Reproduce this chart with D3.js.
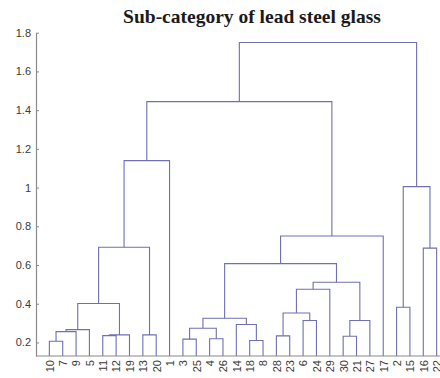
<!DOCTYPE html>
<html>
<head>
<meta charset="utf-8">
<script src="https://cdn.jsdelivr.net/npm/d3@7"></script>
<style>
  body { margin: 0; background: #fff; }
  svg { display: block; }
</style>
</head>
<body>
<svg id="chart" width="440" height="378"></svg>
<script>
// Leaf order along the x axis (observation numbers)
const leafOrder = [10, 7, 9, 5, 11, 12, 19, 13, 20, 1, 3, 25, 4, 26, 14, 18, 8,
                   28, 23, 6, 24, 29, 30, 21, 27, 17, 2, 15, 16, 22];

// Linkage table: row k joins mergeLeft[k] and mergeRight[k] at mergeHeight[k];
// ids 1..30 are observations, id 30+k is the cluster formed in row k.
const mergeLeft   = [10, 18, 3, 4, 30, 28, 11, 37, 13, 31, 40, 33, 14, 6, 35,
                     42, 36, 2, 41, 47, 50, 46, 16, 49, 52, 48, 54, 57, 58];
const mergeRight  = [7, 8, 25, 26, 21, 23, 12, 19, 20, 9, 5, 34, 32, 24, 27,
                     43, 44, 15, 38, 29, 45, 51, 22, 39, 17, 53, 1, 55, 56];
const mergeHeight = [0.206, 0.210, 0.217, 0.219, 0.232, 0.234, 0.235, 0.239, 0.239,
                     0.256, 0.266, 0.273, 0.293, 0.313, 0.313, 0.325, 0.352, 0.382,
                     0.401, 0.475, 0.511, 0.607, 0.687, 0.692, 0.750, 1.005, 1.139,
                     1.444, 1.749];

const yTicks = [0.2, 0.4, 0.6, 0.8, 1.0, 1.2, 1.4, 1.6, 1.8];
const yLimits = [0.13, 1.8];
const chartTitle = "Sub-category of lead steel glass";

const nLeaves = leafOrder.length;
const svg = d3.select("#chart");

const x = d3.scaleLinear().domain([0, nLeaves + 1]).range([36, 450]);
const y = d3.scaleLinear().domain(yLimits).range([356, 32.7]);

// Node positions: leaves sit on their slot, clusters at the mean of their children
const nodes = new Map();
leafOrder.forEach((id, i) => nodes.set(id, { pos: i + 1, h: yLimits[0] }));
const links = mergeHeight.map((h, k) => {
  const a = nodes.get(mergeLeft[k]);
  const b = nodes.get(mergeRight[k]);
  nodes.set(nLeaves + 1 + k, { pos: (a.pos + b.pos) / 2, h });
  return { a, b, h };
});

svg.append("defs").append("clipPath").attr("id", "plot-clip")
  .append("rect").attr("x", 36).attr("y", 0).attr("width", 414).attr("height", 357);

svg.append("g")
  .attr("clip-path", "url(#plot-clip)")
  .selectAll("path")
  .data(links)
  .join("path")
  .attr("d", d => `M${x(d.a.pos)},${y(d.a.h)}V${y(d.h)}H${x(d.b.pos)}V${y(d.b.h)}`)
  .attr("fill", "none")
  .attr("stroke", "#6f6fb3")
  .attr("stroke-width", 1.1);

// Y axis
const yAxis = svg.append("g")
  .attr("transform", `translate(${x(0)},0)`)
  .call(d3.axisLeft(y).tickValues(yTicks).tickSize(-3).tickSizeOuter(0)
        .tickPadding(5).tickFormat(d3.format("~g")));

// X axis with observation labels
const xAxis = svg.append("g")
  .attr("transform", `translate(0,${y(yLimits[0])})`)
  .call(d3.axisBottom(x).tickValues(d3.range(1, nLeaves + 1)).tickSize(0).tickSizeOuter(0)
        .tickFormat(i => leafOrder[i - 1]));
xAxis.select(".domain").attr("d", `M${x(0)},0H${x(nLeaves + 1)}`);
xAxis.selectAll("text")
  .attr("transform", "rotate(-90)")
  .attr("x", -4)
  .attr("y", 0)
  .attr("dy", "0.35em")
  .style("text-anchor", "end");

[yAxis, xAxis].forEach(g => {
  g.select(".domain").attr("stroke", "#8a8a8a").attr("stroke-width", 1.2);
  g.selectAll(".tick line").attr("stroke", "#8a8a8a");
  g.selectAll("text")
    .attr("font-family", "'Liberation Sans', Arial, sans-serif")
    .attr("font-size", 11)
    .attr("fill", "#3a3a3a");
});

svg.append("text")
  .attr("x", 252)
  .attr("y", 22.7)
  .attr("text-anchor", "middle")
  .attr("font-family", "'Liberation Serif', 'Times New Roman', serif")
  .attr("font-weight", "bold")
  .attr("font-size", 19.5)
  .attr("fill", "#1a1a1a")
  .text(chartTitle);
</script>
</body>
</html>
